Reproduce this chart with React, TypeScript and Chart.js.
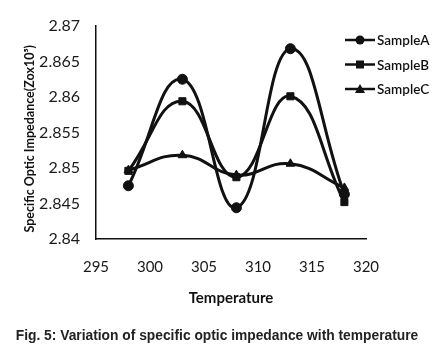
import React, { useEffect, useRef } from "react";
import { Chart, registerables } from "chart.js";

Chart.register(...registerables);

const temperature = [298, 303, 308, 313, 318];
const sampleA = [2.8475, 2.8625, 2.8444, 2.8668, 2.8463];
const sampleB = [2.8496, 2.8594, 2.8487, 2.8601, 2.8452];
const sampleC = [2.8497, 2.8518, 2.849, 2.8506, 2.8472];
const seriesNames = ["SampleA", "SampleB", "SampleC"];
const yTicks = [2.84, 2.845, 2.85, 2.855, 2.86, 2.865, 2.87];
const xTicks = [295, 300, 305, 310, 315, 320];

const FONT = "Lato, 'Open Sans', sans-serif";
const INK = "#111";

const legendPlugin = {
  id: "sideLegend",
  afterDraw(chart: any) {
    const ctx = chart.ctx;
    ctx.save();
    chart.data.datasets.forEach((ds: any, i: number) => {
      const y = 40 + i * 24.5;
      const x0 = 345;
      const x1 = 375;
      ctx.strokeStyle = INK;
      ctx.fillStyle = INK;
      ctx.lineWidth = 2.5;
      ctx.beginPath();
      ctx.moveTo(x0, y);
      ctx.lineTo(x1, y);
      ctx.stroke();
      const cx = (x0 + x1) / 2;
      ctx.beginPath();
      if (ds.pointStyle === "circle") {
        ctx.arc(cx, y, 4.5, 0, Math.PI * 2);
      } else if (ds.pointStyle === "rect") {
        ctx.rect(cx - 4, y - 4, 8, 8);
      } else {
        ctx.moveTo(cx, y - 5);
        ctx.lineTo(cx + 5, y + 4);
        ctx.lineTo(cx - 5, y + 4);
        ctx.closePath();
      }
      ctx.fill();
      ctx.font = `600 13.5px ${FONT}`;
      ctx.textBaseline = "middle";
      ctx.textAlign = "left";
      ctx.fillText(ds.label, 377, y + 1);
    });
    ctx.restore();
  },
};

export default function App() {
  const ref = useRef<HTMLCanvasElement>(null);
  useEffect(() => {
    if (!ref.current) return;
    const mk = (label: string, vals: number[], style: string, r: number) => ({
      label,
      data: temperature.map((t, i) => ({ x: t, y: vals[i] })),
      borderColor: INK,
      backgroundColor: INK,
      borderWidth: 3,
      tension: 0.45,
      pointStyle: style,
      pointRadius: r,
      pointBackgroundColor: INK,
      pointBorderColor: INK,
      pointBorderWidth: 1,
    });
    const chart = new Chart(ref.current, {
      type: "line",
      data: {
        datasets: [
          mk(seriesNames[0], sampleA, "circle", 5),
          mk(seriesNames[1], sampleB, "rect", 5),
          mk(seriesNames[2], sampleC, "triangle", 5),
        ],
      },
      plugins: [legendPlugin],
      options: {
        responsive: false,
        animation: false,
        layout: { padding: { top: 26, right: 68, bottom: 47, left: 0 } },
        plugins: { legend: { display: false }, tooltip: { enabled: false } },
        scales: {
          x: {
            type: "linear",
            min: xTicks[0],
            max: xTicks[xTicks.length - 1],
            afterBuildTicks: (s: any) => {
              s.ticks = xTicks.map((v) => ({ value: v }));
            },
            afterFit: (s: any) => {
              s.height = 75;
            },
            grid: { display: false, drawTicks: false },
            border: { display: true, color: INK, width: 1.5 },
            ticks: {
              color: "#1a1a1a",
              font: { family: FONT, size: 15 },
              padding: 19,
              maxRotation: 0,
            },
            title: {
              display: true,
              text: "Temperature",
              color: INK,
              font: { family: FONT, size: 15, weight: "bold" },
              padding: { top: 0, bottom: 7 },
            },
          },
          y: {
            type: "linear",
            min: yTicks[0],
            max: yTicks[yTicks.length - 1],
            afterBuildTicks: (s: any) => {
              s.ticks = yTicks.map((v) => ({ value: v }));
            },
            afterFit: (s: any) => {
              s.width = 96;
            },
            grid: { display: false, drawTicks: false },
            border: { display: true, color: INK, width: 1.5 },
            ticks: {
              color: "#1a1a1a",
              font: { family: FONT, size: 16 },
              padding: 16,
              callback: (v: any) => String(+Number(v).toFixed(3)),
            },
            title: {
              display: true,
              text: "Specific Optic Impedance(Zox10\u2075)\u2002\u2002",
              color: INK,
              font: { family: FONT, size: 12.5, weight: "bold" },
              padding: { top: 22, bottom: 0 },
            },
          },
        },
      },
    } as any);
    return () => chart.destroy();
  }, []);
  return (
    <div style={{ position: "absolute", left: 0, top: 0, width: 434, height: 361, background: "#fff" }}>
      <canvas ref={ref} width={434} height={361} style={{ position: "absolute", left: 0, top: 0 }} />
      <div
        style={{
          position: "absolute",
          left: 0,
          width: 434,
          top: 328,
          textAlign: "center",
          fontFamily: "'Liberation Sans', Arial, sans-serif",
          fontWeight: "bold",
          fontSize: 13.8,
          color: "#222",
          lineHeight: "16px",
          whiteSpace: "nowrap",
        }}
      >
        Fig. 5: Variation of specific optic impedance with temperature
      </div>
    </div>
  );
}
